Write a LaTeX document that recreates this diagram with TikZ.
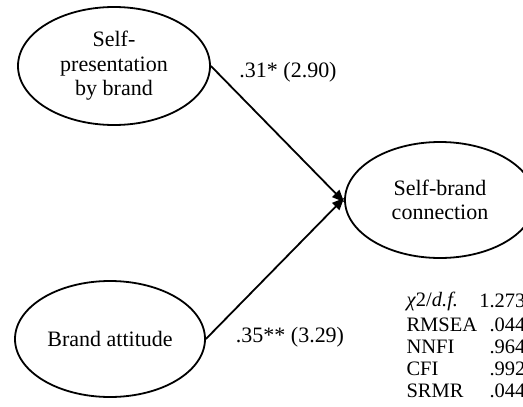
\documentclass[tikz,border=0pt]{standalone}
\usepackage{fontspec}
\setmainfont{Liberation Serif}
\usetikzlibrary{shapes.geometric,arrows.meta}
\begin{document}
\begin{tikzpicture}[x=1pt,y=-1pt,
  construct/.style={draw,ellipse,line width=1.8pt,inner sep=0pt,align=center,
    font=\fontsize{22}{24.5}\selectfont},
  path/.style={line width=1.8pt,-{Triangle[length=12pt,width=10pt]}},
  coef/.style={font=\fontsize{22}{24}\selectfont},
  fitlab/.style={anchor=west,font=\fontsize{20.5}{22}\selectfont},
  fitval/.style={anchor=east,font=\fontsize{20.5}{22}\selectfont}]
  \useasboundingbox (0,0) rectangle (523,407);
  \begin{scope}
  \clip (0,0) rectangle (523,407);

  % latent constructs
  \node[construct,minimum width=192pt,minimum height=118pt] (spb) at (114,66)
    {Self-\\presentation\\by brand};
  \node[construct,minimum width=190pt,minimum height=116pt] (ba) at (110,339)
    {Brand attitude};
  \node[construct,minimum width=190pt,minimum height=116pt] (sbc) at (440,200)
    {Self-brand\\connection};

  % structural paths
  \draw[path] (spb.east) -- ([yshift=-2pt]sbc.west);
  \draw[path] (ba.east) -- ([yshift=2pt]sbc.west);

  % path coefficients (t-values)
  \node[coef] (c1) at (288,72) {.31* (2.90)};
  \node[coef] (c2) at (290,337) {.35** (3.29)};

  % model fit indices
  \node[fitlab] (f1) at (403,301) {\textit{χ}2/\textit{d.f.}};
  \node[fitlab] (f2) at (403,325) {RMSEA};
  \node[fitlab] (f3) at (403,347) {NNFI};
  \node[fitlab] (f4) at (403,369) {CFI};
  \node[fitlab] (f5) at (403,391) {SRMR};
  \node[fitval] (v1) at (529,301) {1.273};
  \node[fitval] (v2) at (529,325) {.044};
  \node[fitval] (v3) at (529,347) {.964};
  \node[fitval] (v4) at (529,369) {.992};
  \node[fitval] (v5) at (529,391) {.044};
  \end{scope}
\end{tikzpicture}
\end{document}
